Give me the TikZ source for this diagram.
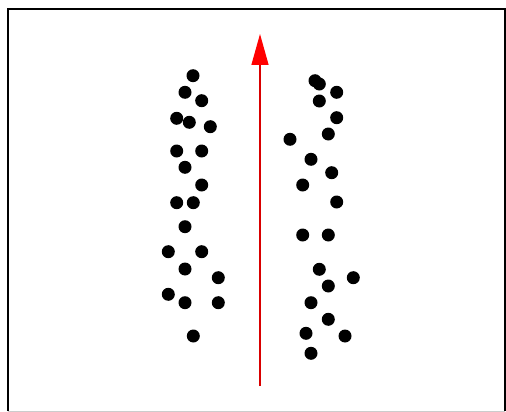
\documentclass[tikz,border=0pt]{standalone}
\usetikzlibrary{arrows.meta}
\tikzset{
  dot/.style={fill=black},
  framel/.style={line width=1.6pt, black},
  axisarrow/.style={red!85!black, line width=1.4pt, -{Triangle[length=31pt,width=17pt,fill=red,color=red]}}
}
\begin{document}
\begin{tikzpicture}[x=1pt,y=-1pt]
\useasboundingbox (0,0) rectangle (506,412);
\fill[white] (0,0) rectangle (506,412);
% frame
\draw[framel] (8,411) -- (8,9) -- (505,9) -- (505,411);
\draw[black!20, line width=1pt] (8,411) -- (505,411);
% dots left
\foreach \x/\y in {193/75.7,185/92.3,201.7/100.7,176.7/118.3,189.3/122.3,210.3/126.7,176.7/151,201.7/151,185/167.3,201.7/185,176.7/202.7,193.3/202.7,185/226.7,168.3/251.7,201.7/251.7,185/269,218.3/277.7,168.3/294.3,185/302.7,218.3/302.7,193.3/336}
  \fill[dot] (\x,\y) circle (6.5);
% dots right
\foreach \x/\y in {315/80.7,319.3/84,336.7/92.3,319.3/101,336.7/117.7,328.3/134,290/139.3,311/159.3,331.7/172.7,302.7/185,336.7/202,302.7/235,328.3/235,319.3/269.3,353.3/277.7,328.3/286,311/302.7,328.3/319.3,306/333.3,345/336,311/353.3}
  \fill[dot] (\x,\y) circle (6.5);
% arrow
\coordinate (start) at (260,386);
\coordinate (tip) at (260,34);
\draw[axisarrow] (start) -- (tip);
\end{tikzpicture}
\end{document}
